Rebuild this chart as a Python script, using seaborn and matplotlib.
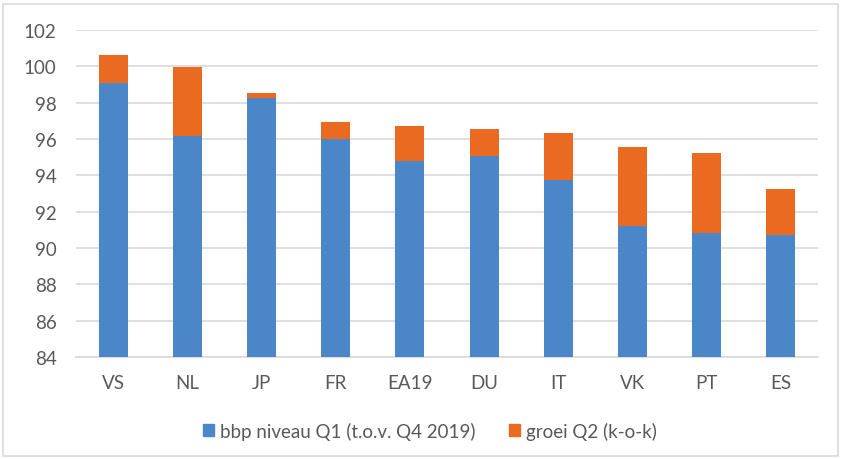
import pandas as pd
import seaborn as sns
from matplotlib import pyplot as plt
from matplotlib.patches import Patch, Rectangle

# data
landen = ['VS', 'NL', 'JP', 'FR', 'EA19', 'DU', 'IT', 'VK', 'PT', 'ES']
niveau_q1 = [99.07, 96.15, 98.26, 96.02, 94.81, 95.08, 93.76, 91.21, 90.81, 90.70]
groei_q2 = [1.55, 3.80, 0.26, 0.92, 1.91, 1.47, 2.55, 4.33, 4.44, 2.57]
labels = ['bbp niveau Q1 (t.o.v. Q4 2019)', 'groei Q2 (k-o-k)']

blauw = '#4A86C8'
oranje = '#EB6A22'
tekst = '#595959'

df = pd.DataFrame({'land': landen, 'niveau': niveau_q1, 'groei': groei_q2})
df['totaal'] = df['niveau'] + df['groei']

sns.set_theme(style='white')
plt.rcParams['font.family'] = ['Lato', 'DejaVu Sans']

fig = plt.figure(figsize=(8.43, 4.6), dpi=100)
ax = fig.add_axes([76 / 843, 1 - 358 / 460, 742 / 843, 327 / 460])

# stacked bars: total in orange, level in blue drawn over it
sns.barplot(ax=ax, data=df, x='land', y='totaal', color=oranje, width=0.39,
            saturation=1, linewidth=0, zorder=2)
sns.barplot(ax=ax, data=df, x='land', y='niveau', color=blauw, width=0.39,
            saturation=1, linewidth=0, zorder=3)

ax.set_ylim(84, 102)
ax.set_yticks(range(84, 103, 2))
ax.set_xlim(-0.5, len(landen) - 0.5)
ax.yaxis.grid(True, color='#D9D9D9', linewidth=1.2, zorder=0)
ax.set_axisbelow(True)
for side in ['top', 'right', 'left']:
    ax.spines[side].set_visible(False)
ax.spines['bottom'].set_color('#D9D9D9')
ax.spines['bottom'].set_linewidth(1.2)
ax.set_xlabel('')
ax.set_ylabel('')
ax.tick_params(axis='both', length=0, labelsize=13.5, colors=tekst)
ax.tick_params(axis='x', pad=12)
ax.tick_params(axis='y', pad=14)

handles = [Patch(color=blauw), Patch(color=oranje)]
fig.legend(handles, labels, loc='center', bbox_to_anchor=(0.51, 1 - 432 / 460),
           ncol=2, frameon=False, fontsize=13.5, labelcolor=tekst,
           handlelength=0.6, handleheight=0.6, handletextpad=0.3, columnspacing=1.8)

# light frame around the chart
fig.patches.append(Rectangle((3 / 843, 3 / 460), 835 / 843, 452 / 460,
                             transform=fig.transFigure, fill=False,
                             edgecolor='#D9D9D9', linewidth=1.2))

plt.savefig('out.png', dpi=100)
plt.close(fig)
